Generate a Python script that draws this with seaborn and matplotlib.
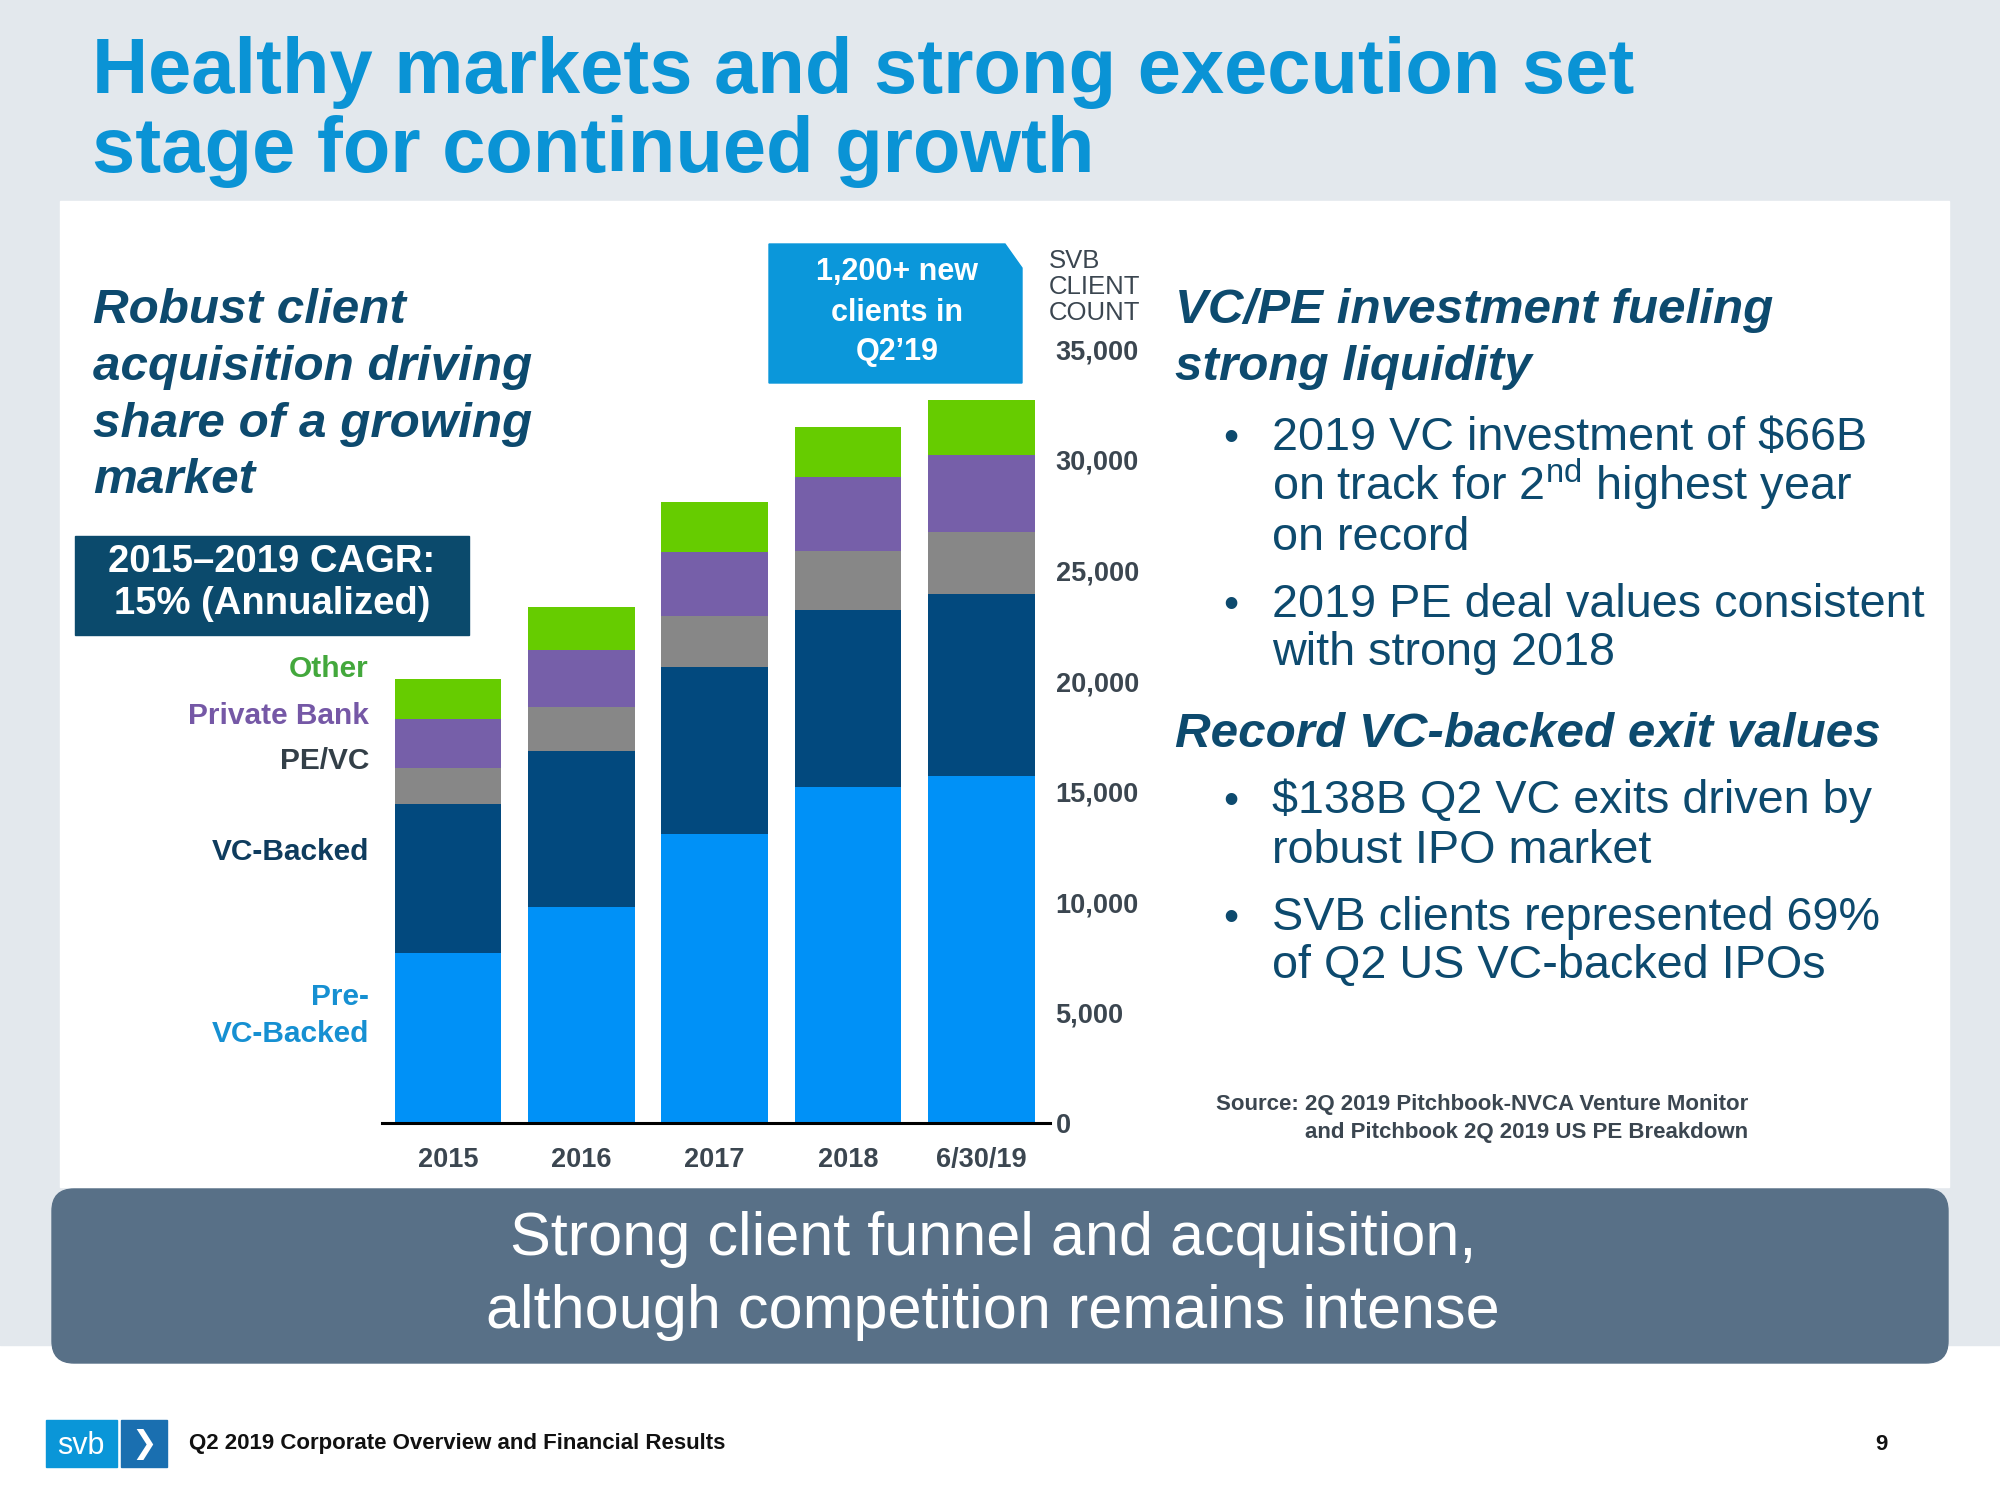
import numpy as np
import pandas as pd
import matplotlib
matplotlib.use("Agg")
import matplotlib.pyplot as plt
from matplotlib.patches import Rectangle, FancyBboxPatch, Polygon
import seaborn as sns

# ---- data ----
periods = ["2015", "2016", "2017", "2018", "6/30/19"]
pre_vc_backed = [7670, 9790, 13090, 15210, 15700]
vc_backed = [6770, 7060, 7550, 8000, 8230]
pe_vc = [1630, 1990, 2300, 2660, 2800]
private_bank = [2210, 2550, 2890, 3340, 3510]
other = [1800, 1960, 2260, 2300, 2480]
segment_names = ["Pre-VC-Backed", "VC-Backed", "PE/VC", "Private Bank", "Other"]
segment_colors = ["#0091f7", "#02497e", "#878787", "#765fa9", "#66cc00"]
y_ticks = [0, 5000, 10000, 15000, 20000, 25000, 30000, 35000]

# ---- style ----
sns.set_theme(style="white")
plt.rcParams["font.family"] = ["Liberation Sans", "DejaVu Sans"]
plt.rcParams["mathtext.fontset"] = "custom"
plt.rcParams["mathtext.rm"] = "Liberation Sans"

TITLE_BLUE = "#0a93d5"
NAVY = "#0d4a6e"
GREY_TXT = "#3b4650"
W, H = 2000, 1500

fig = plt.figure(figsize=(20, 15), dpi=100)
fig.patch.set_facecolor("white")

# background canvas in pixel coordinates (y down)
bg = fig.add_axes([0, 0, 1, 1])
bg.set_xlim(0, W)
bg.set_ylim(H, 0)
bg.axis("off")
bg.add_patch(Rectangle((0, 0), W, 1345, color="#e3e8ed", zorder=0))
bg.add_patch(Rectangle((60, 201), 1889, 986, color="white", zorder=1))

# title
bg.text(92, 93, "Healthy markets and strong execution set", fontsize=56,
        fontweight="bold", color=TITLE_BLUE, va="baseline")
bg.text(92, 172, "stage for continued growth", fontsize=56,
        fontweight="bold", color=TITLE_BLUE, va="baseline")

# left heading
for txt, yb in zip(["Robust client", "acquisition driving",
                    "share of a growing", "market"], [323, 380, 437, 493]):
    bg.text(93, yb, txt, fontsize=35.6, fontweight="bold", fontstyle="italic",
            color=NAVY, va="baseline", zorder=3)

# CAGR box
bg.add_patch(Rectangle((75, 536), 394, 99, color="#0b4a6c", zorder=2))
bg.text(272, 572, "2015\u20132019 CAGR:", fontsize=27.5, fontweight="bold",
        color="white", ha="center", va="baseline", zorder=3)
bg.text(272, 614, "15% (Annualized)", fontsize=27.5, fontweight="bold",
        color="white", ha="center", va="baseline", zorder=3)

# segment labels (left of bars)
seg_labels = [("Other", 677, "#43a83c"), ("Private Bank", 724, "#7558a6"),
              ("PE/VC", 769, "#333f48"), ("VC-Backed", 860, "#0e3c5e"),
              ("Pre-", 1005, "#1690d2"), ("VC-Backed", 1042, "#1690d2")]
for txt, yb, c in seg_labels:
    bg.text(369, yb, txt, fontsize=21.5, fontweight="bold", color=c,
            ha="right", va="baseline", zorder=3)

# callout box
bg.add_patch(Polygon([(769, 244), (1005, 244), (1022, 268), (1022, 383), (769, 383)],
                     closed=True, color="#0b97da", zorder=2))
for txt, yb in zip(["1,200+ new", "clients in", "Q2\u201919"], [280, 321, 360]):
    bg.text(897, yb, txt, fontsize=22, fontweight="bold", color="white",
            ha="center", va="baseline", zorder=3)

for txt, yb in zip(["SVB", "CLIENT", "COUNT"], [268, 294, 320]):
    bg.text(1049, yb, txt, fontsize=18.5, color=GREY_TXT, va="baseline", zorder=3)

# right-hand text block
bg.text(1175, 323, "VC/PE investment fueling", fontsize=35.6, fontweight="bold",
        fontstyle="italic", color=NAVY, va="baseline", zorder=3)
bg.text(1175, 380, "strong liquidity", fontsize=35.6, fontweight="bold",
        fontstyle="italic", color=NAVY, va="baseline", zorder=3)
bg.text(1175, 747, "Record VC-backed exit values", fontsize=35.6, fontweight="bold",
        fontstyle="italic", color=NAVY, va="baseline", zorder=3)

bullets = [
    (["2019 VC investment of $66B",
      r"on track for 2$^{\mathrm{nd}}$ highest year", "on record"], [450, 500, 550]),
    (["2019 PE deal values consistent", "with strong 2018"], [617, 665]),
    (["$138B Q2 VC exits driven by", "robust IPO market"], [813, 863]),
    (["SVB clients represented 69%", "of Q2 US VC-backed IPOs"], [930, 978]),
]
for lines, ys in bullets:
    bg.text(1231, ys[0], "\u2022", fontsize=31, color=NAVY, ha="center",
            va="baseline", zorder=3)
    for txt, yb in zip(lines, ys):
        bg.text(1272, yb, txt, fontsize=33.7, color=NAVY, va="baseline", zorder=3)

# source
bg.text(1748, 1110, "Source: 2Q 2019 Pitchbook-NVCA Venture Monitor", fontsize=16,
        fontweight="bold", color=GREY_TXT, ha="right", va="baseline", zorder=3)
bg.text(1748, 1138, "and Pitchbook 2Q 2019 US PE Breakdown", fontsize=16,
        fontweight="bold", color=GREY_TXT, ha="right", va="baseline", zorder=3)

# bottom banner
bg.add_patch(FancyBboxPatch((52, 1189), 1896, 174,
                            boxstyle="round,pad=0,rounding_size=22",
                            color="#587087", zorder=2))
bg.text(993, 1255, "Strong client funnel and acquisition,", fontsize=44,
        color="white", ha="center", va="baseline", zorder=3)
bg.text(993, 1328, "although competition remains intense", fontsize=44,
        color="white", ha="center", va="baseline", zorder=3)

# footer
bg.add_patch(Rectangle((46, 1420), 71, 47, color="#0a96d8", zorder=2))
bg.add_patch(Rectangle((121, 1420), 46, 47, color="#1a6fb0", zorder=2))
bg.text(81, 1446, "svb", fontsize=22, color="white", ha="center", va="center", zorder=3)
bg.text(144, 1444, "\u276F", fontsize=22, color="white", ha="center", va="center",
        zorder=3, family=["DejaVu Sans"])
bg.text(189, 1444, "Q2 2019 Corporate Overview and Financial Results", fontsize=16,
        fontweight="bold", color="#111111", va="center", zorder=3)
bg.text(1881, 1444, "9", fontsize=16, fontweight="bold", color="#111111",
        ha="center", va="center", zorder=3)

# ---- stacked bar chart ----
df = pd.DataFrame({
    "Pre-VC-Backed": pre_vc_backed,
    "VC-Backed": vc_backed,
    "PE/VC": pe_vc,
    "Private Bank": private_bank,
    "Other": other,
}, index=periods)
cum = df[segment_names].cumsum(axis=1)

ax_left, ax_right, y_zero, y_top = 382, 1050, 1123, 349.5
ax = fig.add_axes([ax_left / W, 1 - y_zero / H, (ax_right - ax_left) / W,
                   (y_zero - y_top) / H])
ax.patch.set_alpha(0)
# draw cumulative totals from the top segment down so each covers the one above
for name, color in zip(segment_names[::-1], segment_colors[::-1]):
    sns.barplot(x=periods, y=cum[name].values, color=color, saturation=1,
                width=0.8, linewidth=0, ax=ax)

ax.set_xlim(-0.495, 4.516)
ax.set_ylim(0, 35000)
for side in ["top", "left", "right"]:
    ax.spines[side].set_visible(False)
ax.spines["bottom"].set_linewidth(2.2)
ax.spines["bottom"].set_color("black")
ax.yaxis.tick_right()
ax.set_yticks(y_ticks)
ax.set_yticklabels([f"{v:,}" for v in y_ticks], fontweight="bold")
ax.set_xticks(range(len(periods)))
ax.set_xticklabels(periods, fontweight="bold")
ax.tick_params(axis="y", length=0, pad=4, labelsize=19.5, labelcolor=GREY_TXT)
ax.tick_params(axis="x", length=0, pad=17, labelsize=19.5, labelcolor=GREY_TXT)
ax.set_xlabel("")
ax.set_ylabel("")
ax.grid(False)

fig.savefig("out.png", dpi=100)
